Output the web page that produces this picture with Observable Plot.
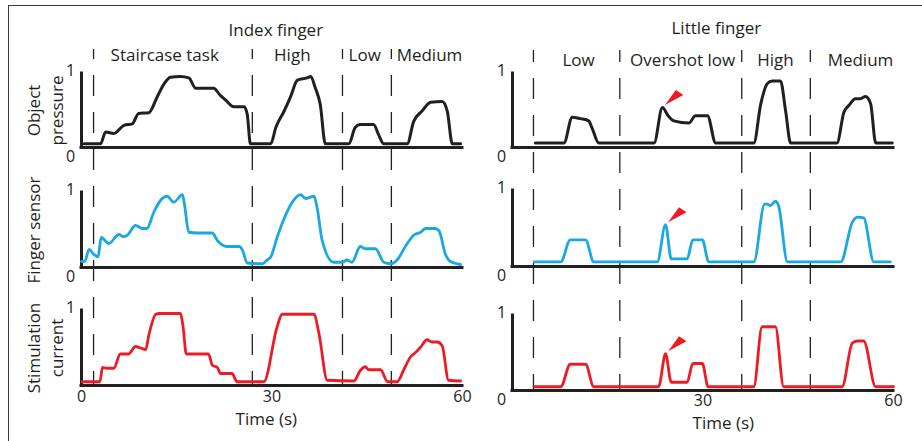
<!DOCTYPE html>
<html><head><meta charset="utf-8">
<script src="https://cdn.jsdelivr.net/npm/d3@7"></script>
<script src="https://cdn.jsdelivr.net/npm/@observablehq/plot@0.6"></script>
<style>
html,body{margin:0;padding:0;background:#fff;}
#fig{position:relative;width:922px;height:441px;overflow:hidden;background:#fff;font-family:"Open Sans",sans-serif;}
#frame{position:absolute;left:8px;top:5px;width:930px;height:450px;border-top:1px solid #3a3a3a;border-left:1px solid #3a3a3a;}
</style></head>
<body><div id="fig"><div id="frame"></div></div>
<script>
// ---------- data ----------
const timeDomain = [0, 60];
const valueDomain = [0, 1];
const yTicks = [0, 1];
const xTicksIndex = [0, 30, 60];
const xTicksLittle = [30, 60];
const timeLabel = "Time (s)";
const timeLabelTimes = [29.1, 33.2];
const columnTitles = ["Index finger", "Little finger"];
const columnTitleTimes = [30.6, 32.1];
const rowLabels = ["Object\npressure", "Finger sensor", "Stimulation\ncurrent"];

const indexSegments = ["Staircase task", "High", "Low", "Medium"];
const indexSegmentTimes = [13.1, 33.2, 44.6, 54.8];
const indexBoundaries = [1.9, 26.9, 41.1, 48.8];
const littleSegments = ["Low", "Overshot low", "High", "Medium"];
const littleSegmentTimes = [10.4, 26.8, 41.4, 54.8];
const littleBoundaries = [3.3, 16.9, 36.1, 46.9];

// [time (s), normalised value]
const indexPressure = [[0.4,0.05],[3.0,0.05],[3.8,0.21],[5.1,0.19],[6.7,0.30],[8.0,0.32],[9.0,0.46],[10.6,0.47],[11.9,0.68],[13.0,0.86],[14.0,0.95],[15.6,0.96],[16.9,0.94],[18.0,0.80],[20.8,0.80],[21.9,0.70],[22.7,0.64],[24.0,0.55],[25.6,0.55],[26.1,0.45],[26.6,0.05],[29.8,0.05],[30.6,0.27],[31.9,0.49],[32.9,0.68],[34.0,0.91],[35.5,0.94],[36.1,0.96],[36.8,0.81],[37.6,0.58],[38.4,0.05],[42.1,0.05],[43.1,0.27],[43.9,0.31],[46.0,0.31],[46.8,0.17],[47.6,0.05],[51.3,0.05],[52.3,0.35],[53.6,0.49],[55.0,0.61],[56.8,0.62],[57.6,0.49],[58.4,0.05],[59.7,0.05]];
const indexSensor = [[0,0.08],[0.5,0.08],[1.2,0.24],[1.9,0.18],[2.6,0.14],[3.1,0.40],[4.3,0.32],[5.9,0.44],[6.6,0.41],[7.2,0.43],[8.5,0.56],[9.6,0.52],[10.3,0.52],[11.4,0.74],[12.4,0.89],[13.5,0.95],[14.5,0.87],[15.9,0.97],[16.2,0.85],[16.9,0.47],[18.2,0.46],[20.6,0.46],[21.4,0.36],[22.9,0.28],[24.8,0.28],[25.3,0.24],[26.1,0.06],[28.5,0.05],[29.2,0.10],[29.8,0.14],[30.8,0.40],[31.9,0.65],[32.9,0.83],[34.5,0.97],[35.3,0.92],[36.6,0.95],[37.1,0.80],[37.9,0.36],[39.7,0.07],[41.1,0.07],[41.8,0.10],[42.6,0.07],[43.9,0.28],[44.7,0.25],[46.3,0.25],[47.6,0.07],[48.7,0.05],[49.7,0.10],[51.0,0.28],[52.3,0.43],[53.4,0.47],[54.2,0.52],[55.7,0.52],[56.3,0.49],[57.3,0.18],[58.1,0.08],[59.7,0.04]];
const indexCurrent = [[0.1,0.05],[2.9,0.05],[3.3,0.24],[4.0,0.23],[5.1,0.23],[6.1,0.42],[7.4,0.42],[8.5,0.52],[9.3,0.50],[10.1,0.48],[10.6,0.67],[11.7,0.95],[12.2,0.96],[15.6,0.96],[16.0,0.78],[16.5,0.42],[20.0,0.42],[20.6,0.27],[21.4,0.24],[21.9,0.16],[23.7,0.16],[24.5,0.05],[28.7,0.05],[30.8,0.78],[31.6,0.95],[36.6,0.95],[37.4,0.69],[38.7,0.07],[42.9,0.06],[43.9,0.20],[44.7,0.25],[45.2,0.21],[47.1,0.21],[48.2,0.05],[49.7,0.05],[50.8,0.22],[51.8,0.38],[52.6,0.44],[53.4,0.51],[54.4,0.61],[55.2,0.58],[56.0,0.58],[56.8,0.53],[57.8,0.07],[59.7,0.06]];
const littlePressure = [[3.6,0.06],[8.1,0.06],[9.4,0.41],[10.7,0.39],[12.0,0.36],[12.5,0.27],[13.6,0.06],[22.3,0.06],[23.6,0.54],[24.5,0.43],[25.4,0.36],[27.8,0.33],[28.8,0.43],[30.7,0.43],[32.0,0.06],[38.0,0.06],[39.1,0.59],[40.1,0.86],[40.9,0.90],[42.2,0.90],[43.0,0.50],[43.8,0.06],[51.1,0.06],[52.2,0.48],[53.0,0.57],[54.0,0.66],[54.8,0.66],[55.6,0.69],[56.4,0.59],[57.2,0.06],[59.8,0.06]];
const littleSensor = [[3.4,0.06],[7.6,0.06],[9.1,0.35],[11.5,0.35],[12.8,0.06],[22.8,0.06],[24.1,0.55],[25.0,0.10],[27.5,0.10],[28.4,0.35],[29.9,0.35],[30.9,0.06],[38.0,0.06],[39.7,0.82],[40.1,0.82],[40.6,0.80],[41.4,0.86],[41.9,0.80],[43.3,0.06],[51.7,0.06],[53.5,0.58],[54.3,0.65],[55.3,0.64],[56.9,0.06],[59.5,0.06]];
const littleCurrent = [[3.5,0.05],[7.6,0.05],[9.1,0.35],[11.5,0.35],[12.8,0.05],[23.0,0.05],[24.1,0.49],[25.0,0.11],[27.5,0.11],[28.4,0.36],[29.9,0.36],[30.8,0.05],[38.0,0.05],[39.3,0.85],[41.4,0.85],[42.7,0.05],[51.9,0.05],[53.5,0.63],[54.3,0.66],[55.3,0.66],[57.2,0.05],[60,0.05]];

// overshoot markers (little finger), one per row
const overshootTimes = [23.6, 24.1, 24.1];
const overshootValues = [0.54, 0.55, 0.49];

// ---------- styling / layout ----------
const INK = "#231f20", BLUE = "#1aa8e0", RED = "#ed1c24";
const FONT = "'Open Sans', sans-serif";
const FS = 17, TFS = 16;

const wedge = {
  draw(ctx) {
    ctx.moveTo(2.5, -2.5);
    ctx.lineTo(13.5, -17.5);
    ctx.lineTo(21, -12.5);
    ctx.closePath();
  }
};

const columns = [
  {
    left: 0, ml: 81, mr: 18, overlayTop: 49, overlayBottom: 385, dashOffset: 11,
    segDy: -1, titleDy: -26, tickDy: 11, timeDy: 34,
    title: columnTitles[0], titleTime: columnTitleTimes[0],
    segments: indexSegments, segTimes: indexSegmentTimes, boundaries: indexBoundaries,
    xTicks: xTicksIndex, timeLabelTime: timeLabelTimes[0], rowLabels: true, overshoot: false,
    rows: [
      {top: 73, bottom: 147, series: indexPressure, color: INK, sw: 3, zero: true},
      {top: 192, bottom: 267, series: indexSensor, color: BLUE, sw: 2.8, zero: true},
      {top: 310, bottom: 385, series: indexCurrent, color: RED, sw: 2.8, zero: false}
    ]
  },
  {
    left: 440, ml: 72, mr: 27, overlayTop: 50, overlayBottom: 390, dashOffset: 9,
    segDy: 3, titleDy: -29, tickDy: 10, timeDy: 33,
    title: columnTitles[1], titleTime: columnTitleTimes[1],
    segments: littleSegments, segTimes: littleSegmentTimes, boundaries: littleBoundaries,
    xTicks: xTicksLittle, timeLabelTime: timeLabelTimes[1], rowLabels: false, overshoot: true,
    rows: [
      {top: 73, bottom: 147, series: littlePressure, color: INK, sw: 3, zero: true},
      {top: 190, bottom: 266, series: littleSensor, color: BLUE, sw: 2.8, zero: true},
      {top: 315, bottom: 390, series: littleCurrent, color: RED, sw: 2.8, zero: true}
    ]
  }
];

const fig = document.getElementById("fig");
const baseStyle = {background: "transparent", overflow: "visible", fontFamily: FONT, color: INK};

function place(svg, left, top) {
  svg.style.position = "absolute";
  svg.style.left = left + "px";
  svg.style.top = top + "px";
  fig.appendChild(svg);
}

columns.forEach((col, c) => {
  // overlay: column title, segment labels, dashed boundaries
  const overlay = Plot.plot({
    width: 480, height: col.overlayBottom,
    marginTop: col.overlayTop, marginBottom: 0, marginLeft: col.ml, marginRight: col.mr,
    x: {domain: timeDomain, axis: null},
    style: baseStyle,
    marks: [
      Plot.ruleX(col.boundaries, {stroke: INK, strokeWidth: 1.3, strokeDasharray: "21,16", strokeDashoffset: col.dashOffset}),
      Plot.text(col.segments, {x: (d, i) => col.segTimes[i], text: d => d, frameAnchor: "top", lineAnchor: "top", textAnchor: "middle", dy: col.segDy, fontSize: FS, fill: INK}),
      Plot.text([col.title], {x: () => col.titleTime, text: d => d, frameAnchor: "top", lineAnchor: "top", textAnchor: "middle", dy: col.titleDy, fontSize: FS, fill: INK})
    ]
  });
  place(overlay, col.left, 0);

  col.rows.forEach((row, r) => {
    const mt = 20, mb = r === 2 ? 50 : 22;
    const marks = [
      Plot.ruleX([timeDomain[0]], {y1: () => valueDomain[0], y2: () => valueDomain[1], stroke: INK, strokeWidth: 3, strokeLinecap: "square"}),
      Plot.ruleY([valueDomain[0]], {x1: () => timeDomain[0], x2: () => timeDomain[1], stroke: INK, strokeWidth: 3, strokeLinecap: "square"}),
      Plot.line(row.series, {x: d => d[0], y: d => d[1], stroke: row.color, strokeWidth: row.sw, curve: "monotone-x", strokeLinejoin: "round"}),
      Plot.text(yTicks.filter(v => v === valueDomain[1]), {x: () => timeDomain[0], y: d => d, text: d => `${d}`, dx: -11, dy: -3, fontSize: TFS, fill: INK})
    ];
    if (row.zero) {
      marks.push(Plot.text(yTicks.filter(v => v === valueDomain[0]), {x: () => timeDomain[0], y: d => d, text: d => `${d}`, dx: -11, dy: 9, fontSize: TFS, fill: INK}));
    }
    if (r === 2) {
      marks.push(Plot.text(col.xTicks, {x: d => d, y: () => valueDomain[0], text: d => `${d}`, dy: col.tickDy, fontSize: TFS, fill: INK}));
      marks.push(Plot.text([timeLabel], {x: () => col.timeLabelTime, y: () => valueDomain[0], text: d => d, dy: col.timeDy, fontSize: FS, fill: INK}));
    }
    if (col.rowLabels) {
      marks.push(Plot.text([rowLabels[r]], {frameAnchor: "left", text: d => d, rotate: -90, dx: 22 - col.ml, textAnchor: "middle", lineAnchor: "top", lineHeight: 1.41, fontSize: FS, fill: INK}));
    }
    if (col.overshoot) {
      marks.push(Plot.dot([{t: overshootTimes[r], v: overshootValues[r]}], {x: "t", y: "v", symbol: wedge, r: 4, fill: RED, stroke: "none"}));
    }
    const svg = Plot.plot({
      width: 480, height: mt + (row.bottom - row.top) + mb,
      marginTop: mt, marginBottom: mb, marginLeft: col.ml, marginRight: col.mr,
      x: {domain: timeDomain, axis: null},
      y: {domain: valueDomain, axis: null},
      style: baseStyle,
      marks
    });
    place(svg, col.left, row.top - mt);
  });
});
</script>
</body></html>
